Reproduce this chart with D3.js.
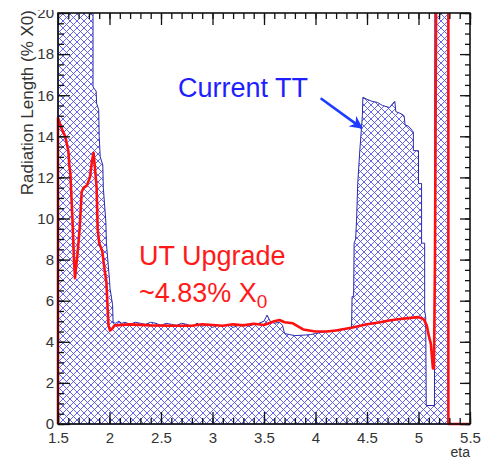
<!DOCTYPE html>
<html>
<head>
<meta charset="utf-8">
<script src="https://cdn.jsdelivr.net/npm/d3@7"></script>
<style>
  body { margin: 0; background: #fff; }
  svg { display: block; font-family: "Liberation Sans", Arial, sans-serif; }
</style>
</head>
<body>
<div id="chart"></div>
<script>
// Current TT material (% X0) vs eta
const ttEta = [1.5, 1.5, 1.84, 1.84, 1.87, 1.875, 1.895, 1.9, 1.91, 1.935, 1.94, 1.965, 1.97, 2.0, 2.005, 2.03, 2.035,
  2.06, 2.09, 2.12, 2.15, 2.2, 2.25, 2.3, 2.35, 2.4, 2.45, 2.5, 2.55, 2.6, 2.65, 2.7, 2.75, 2.8, 2.85, 2.9, 2.95,
  3.0, 3.05, 3.1, 3.15, 3.2, 3.25, 3.3, 3.35, 3.4, 3.45, 3.5, 3.53, 3.56, 3.6, 3.65, 3.68, 3.7, 3.75, 3.8, 3.9,
  3.95, 4.0, 4.1, 4.2, 4.3, 4.35, 4.355, 4.37, 4.375, 4.39, 4.4, 4.41, 4.43, 4.455, 4.46, 4.5, 4.55, 4.6, 4.65,
  4.72, 4.75, 4.77, 4.78, 4.83, 4.86, 4.87, 4.9, 4.92, 4.95, 4.95, 5.0, 5.0, 5.03, 5.03, 5.06, 5.06, 5.07, 5.075,
  5.155, 5.16, 5.29, 5.29];
const ttX0 = [0, 25, 25, 16.4, 16.2, 15.6, 15.3, 14.0, 13.0, 12.6, 11.5, 9.8, 8.8, 7.0, 6.6, 5.8, 4.95,
  4.9, 5.0, 4.9, 4.95, 4.85, 4.95, 4.9, 4.85, 4.95, 4.9, 4.8, 4.9, 4.85, 4.8, 4.9, 4.85, 4.75, 4.9, 4.75, 4.85,
  4.7, 4.8, 4.75, 4.85, 4.7, 4.8, 4.85, 4.75, 4.85, 4.9, 5.0, 5.3, 5.0, 4.9, 4.95, 4.8, 4.4, 4.35, 4.3, 4.33,
  4.35, 4.4, 4.5, 4.57, 4.65, 4.7, 6.2, 6.2, 8.8, 9.0, 10.1, 11.7, 13.3, 15.0, 15.9, 15.8, 15.7, 15.65, 15.5,
  15.4, 15.6, 15.7, 15.2, 15.1, 15.0, 14.55, 14.5, 14.4, 14.2, 13.3, 13.3, 11.7, 11.7, 8.8, 8.8, 5.5, 5.2, 0.9,
  0.9, 25, 25, 0];

// UT upgrade material
const utEta = [1.5, 1.5, 1.52, 1.55, 1.57, 1.6, 1.61, 1.62, 1.64, 1.655, 1.665, 1.675, 1.69, 1.71, 1.73, 1.75,
  1.78, 1.81, 1.83, 1.845, 1.86, 1.875, 1.885, 1.9, 1.93, 1.95, 1.97, 1.98, 1.99, 2.005, 2.02, 2.05, 2.2, 2.4,
  2.6, 2.8, 2.9, 3.0, 3.1, 3.2, 3.3, 3.4, 3.5, 3.6, 3.65, 3.7, 3.78, 3.88, 4.0, 4.11, 4.2, 4.36, 4.5, 4.63, 4.7,
  4.8, 4.9, 5.0, 5.05, 5.08, 5.1, 5.12, 5.14, 5.15, 5.16, 5.175, 5.29, 5.29, 5.5];
const utX0 = [0, 14.9, 14.6, 14.2, 14.0, 13.3, 12.6, 12.2, 10.0, 8.0, 7.1, 7.6, 8.3, 9.5, 11.3, 11.5,
  11.6, 12.0, 12.8, 13.2, 12.4, 11.5, 9.5, 8.8, 8.4, 7.6, 6.9, 5.8, 4.8, 4.55, 4.6, 4.8, 4.85, 4.8,
  4.78, 4.78, 4.85, 4.82, 4.78, 4.85, 4.8, 4.88, 4.82, 5.0, 5.06, 4.95, 4.9, 4.6, 4.5, 4.5, 4.55, 4.7, 4.85, 4.95, 5.02,
  5.1, 5.15, 5.2, 5.1, 4.8, 4.3, 3.9, 2.7, 2.7, 8, 25, 25, 0, 0];

const xTicks = [1.5, 2, 2.5, 3, 3.5, 4, 4.5, 5, 5.5];
const yTicks = [0, 2, 4, 6, 8, 10, 12, 14, 16, 18, 20];

const width = 481, height = 459;
const margin = {top: 13, right: 11, bottom: 35, left: 58};

const x = d3.scaleLinear().domain([1.5, 5.5]).range([margin.left, width - margin.right]);
const y = d3.scaleLinear().domain([0, 20]).range([height - margin.bottom, margin.top]);

const svg = d3.select("#chart").append("svg")
    .attr("width", width)
    .attr("height", height);

const defs = svg.append("defs");
const hatch = defs.append("pattern")
    .attr("id", "hatch")
    .attr("patternUnits", "userSpaceOnUse")
    .attr("width", 7).attr("height", 7);
hatch.append("path")
    .attr("d", "M-1,1 l2,-2 M0,7 l7,-7 M6,8 l2,-2 M-1,6 l2,2 M0,0 l7,7 M6,-1 l2,2")
    .attr("stroke", "#5353ea")
    .attr("stroke-width", 0.9)
    .attr("fill", "none");

// a little slack on the left and bottom so the red line lies over the frame
defs.append("clipPath").attr("id", "plotclip")
  .append("rect")
    .attr("x", margin.left - 2).attr("y", margin.top)
    .attr("width", width - margin.left - margin.right + 2)
    .attr("height", height - margin.top - margin.bottom + 2);

// the "20" label is cut at its top in the original
defs.append("clipPath").attr("id", "labelclip")
  .append("rect")
    .attr("x", -100).attr("y", 10).attr("width", 200).attr("height", height);

const tt = ttEta.map((e, i) => [e, ttX0[i]]);
const ut = utEta.map((e, i) => [e, utX0[i]]);

const line = d3.line().x(d => x(d[0])).y(d => y(d[1]));

const plot = svg.append("g").attr("clip-path", "url(#plotclip)");

plot.append("path")
    .attr("d", line(tt) + "Z")
    .attr("fill", "url(#hatch)")
    .attr("stroke", "#2a2aa8")
    .attr("stroke-width", 1);

// axes, ROOT style with ticks inside the frame
const minorX = d3.range(15, 56).map(d => d / 10);
const minorY = d3.range(0, 41).map(d => d / 2);

svg.append("g")
    .attr("transform", `translate(0,${y(0)})`)
    .call(d3.axisBottom(x).tickValues(minorX).tickSize(-6).tickFormat(""))
    .call(g => g.select(".domain").remove());
const xAxis = svg.append("g")
    .attr("transform", `translate(0,${y(0)})`)
    .call(d3.axisBottom(x).tickValues(xTicks).tickSize(-12).tickPadding(8).tickFormat(d3.format("")))
    .call(g => g.select(".domain").remove());

svg.append("g")
    .attr("transform", `translate(0,${y(20)})`)
    .call(d3.axisTop(x).tickValues(minorX).tickSize(-6).tickFormat(""))
    .call(g => g.select(".domain").remove());
svg.append("g")
    .attr("transform", `translate(0,${y(20)})`)
    .call(d3.axisTop(x).tickValues(xTicks).tickSize(-12).tickFormat(""))
    .call(g => g.select(".domain").remove());

svg.append("g")
    .attr("transform", `translate(${x(1.5)},0)`)
    .call(d3.axisLeft(y).tickValues(minorY).tickSize(-6).tickFormat(""))
    .call(g => g.select(".domain").remove());
const yAxis = svg.append("g")
    .attr("transform", `translate(${x(1.5)},0)`)
    .attr("clip-path", "url(#labelclip)")
    .call(d3.axisLeft(y).tickValues(yTicks).tickSize(-12).tickPadding(4))
    .call(g => g.select(".domain").remove());

svg.append("g")
    .attr("transform", `translate(${x(5.5)},0)`)
    .call(d3.axisRight(y).tickValues(minorY).tickSize(-5).tickFormat(""))
    .call(g => g.select(".domain").remove());
svg.append("g")
    .attr("transform", `translate(${x(5.5)},0)`)
    .call(d3.axisRight(y).tickValues(yTicks).tickSize(-10).tickFormat(""))
    .call(g => g.select(".domain").remove());

svg.selectAll(".tick line").attr("stroke", "#111").attr("stroke-width", 1.3);
[xAxis, yAxis].forEach(a => a.selectAll("text")
    .attr("font-size", 15)
    .attr("font-family", "Liberation Sans, Arial, sans-serif")
    .attr("fill", "#333"));

svg.append("rect")
    .attr("x", x(1.5)).attr("y", y(20))
    .attr("width", x(5.5) - x(1.5))
    .attr("height", y(0) - y(20))
    .attr("fill", "none")
    .attr("stroke", "#111")
    .attr("stroke-width", 1.6);

plot.append("path")
    .attr("d", line(ut))
    .attr("fill", "none")
    .attr("stroke", "#ff1010")
    .attr("stroke-width", 2.6)
    .attr("stroke-linejoin", "round");

// axis titles
svg.append("text")
    .attr("transform", `translate(33,10) rotate(-90)`)
    .attr("text-anchor", "end")
    .attr("font-size", 17)
    .attr("fill", "#333")
    .text("Radiation Length (% X0)");

svg.append("text")
    .attr("x", x(5.5)).attr("y", 457)
    .attr("text-anchor", "end")
    .attr("font-size", 14)
    .attr("fill", "#333")
    .text("eta");

// annotations
svg.append("text")
    .attr("x", x(2.665)).attr("y", y(15.9))
    .attr("font-size", 27)
    .attr("fill", "#1e1eff")
    .text("Current TT");

defs.append("marker")
    .attr("id", "arrow")
    .attr("viewBox", "0 0 10 10")
    .attr("refX", 9).attr("refY", 5)
    .attr("markerWidth", 5).attr("markerHeight", 5)
    .attr("orient", "auto")
  .append("path")
    .attr("d", "M0,0 L10,5 L0,10 L3,5 Z")
    .attr("fill", "#1e3cff");

svg.append("line")
    .attr("x1", x(4.05)).attr("y1", y(15.85))
    .attr("x2", x(4.45)).attr("y2", y(14.4))
    .attr("stroke", "#1e3cff")
    .attr("stroke-width", 2.6)
    .attr("marker-end", "url(#arrow)");

svg.append("text")
    .attr("x", x(2.286)).attr("y", y(7.75))
    .attr("font-size", 27)
    .attr("fill", "#ff1a1a")
    .text("UT Upgrade");

const sub = svg.append("text")
    .attr("x", x(2.286)).attr("y", y(5.95))
    .attr("font-size", 27)
    .attr("fill", "#ff1a1a")
    .text("~4.83% X");
sub.append("tspan")
    .attr("dy", 6)
    .attr("font-size", 19)
    .text("0");
</script>
</body>
</html>
